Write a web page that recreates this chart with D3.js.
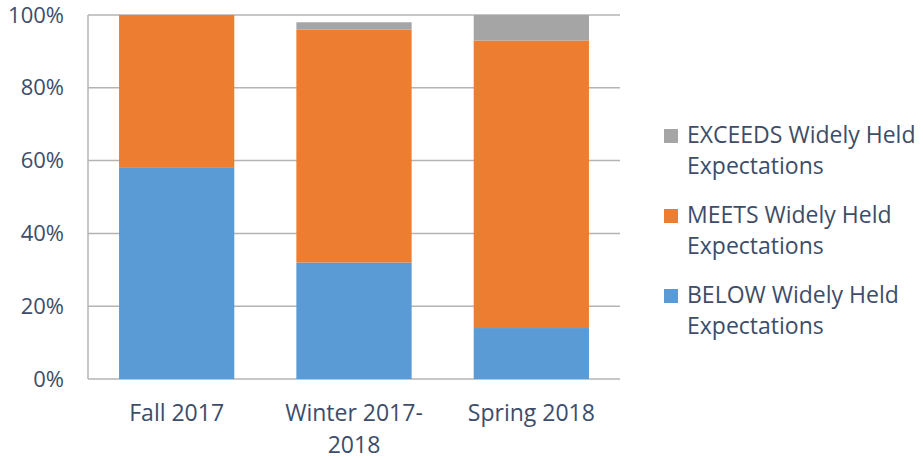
<!DOCTYPE html>
<html>
<head>
<meta charset="utf-8">
<script src="https://cdn.jsdelivr.net/npm/d3@7"></script>
<style>
  body { margin: 0; background: #fff; }
  svg text { font-family: "Open Sans", sans-serif; fill: #3d4d69; }
</style>
</head>
<body>
<div id="chart"></div>
<script>
const categories = [["Fall 2017"], ["Winter 2017-", "2018"], ["Spring 2018"]];
const seriesNames = ["BELOW", "MEETS", "EXCEEDS"];
const below = [58, 32, 14];
const meets = [42, 64, 79];
const exceeds = [0, 2, 7];
const yTicks = [0, 20, 40, 60, 80, 100];
const legendLabels = [
  ["EXCEEDS Widely Held", "Expectations"],
  ["MEETS Widely Held", "Expectations"],
  ["BELOW Widely Held", "Expectations"]
];

const width = 923, height = 460;
const margin = { left: 88, right: 303, top: 15, bottom: 81 };
const colors = { BELOW: "#5b9bd5", MEETS: "#ed7d31", EXCEEDS: "#a5a5a5" };

const svg = d3.select("#chart").append("svg")
  .attr("width", width)
  .attr("height", height);

const rows = categories.map((c, i) => ({
  key: c.join(" "), lines: c,
  BELOW: below[i], MEETS: meets[i], EXCEEDS: exceeds[i]
}));

const x = d3.scaleBand()
  .domain(rows.map(d => d.key))
  .range([margin.left, width - margin.right])
  .paddingInner(0.35)
  .paddingOuter(0.175);

const y = d3.scaleLinear()
  .domain([0, 100])
  .range([height - margin.bottom, margin.top]);

// gridlines
svg.append("g")
  .selectAll("line")
  .data(yTicks)
  .enter().append("line")
  .attr("x1", margin.left)
  .attr("x2", width - margin.right)
  .attr("y1", d => y(d))
  .attr("y2", d => y(d))
  .attr("stroke", "#b4b4b4")
  .attr("stroke-width", 1.5);

svg.append("line")
  .attr("x1", margin.left).attr("x2", margin.left)
  .attr("y1", y(0)).attr("y2", y(100))
  .attr("stroke", "#b4b4b4")
  .attr("stroke-width", 1.5);

// stacked bars
const stack = d3.stack().keys(seriesNames)(rows);

svg.append("g")
  .selectAll("g")
  .data(stack)
  .enter().append("g")
  .attr("fill", d => colors[d.key])
  .selectAll("rect")
  .data(d => d)
  .enter().append("rect")
  .attr("x", d => x(d.data.key))
  .attr("width", x.bandwidth())
  .attr("y", d => y(d[1]))
  .attr("height", d => y(d[0]) - y(d[1]));

// y axis labels
const yAxis = d3.axisLeft(y)
  .tickValues(yTicks)
  .tickFormat(d => d + "%")
  .tickSize(0)
  .tickPadding(24);

svg.append("g")
  .attr("transform", `translate(${margin.left},0)`)
  .call(yAxis)
  .call(g => g.select(".domain").remove())
  .selectAll("text")
  .attr("font-size", 22)
  .attr("font-family", "Open Sans")
  .attr("fill", "#3d4d69");

// x axis labels
svg.append("g")
  .selectAll("text")
  .data(rows)
  .enter().append("text")
  .attr("x", d => x(d.key) + x.bandwidth() / 2)
  .attr("y", y(0) + 42)
  .attr("text-anchor", "middle")
  .attr("font-size", 23)
  .selectAll("tspan")
  .data(d => d.lines)
  .enter().append("tspan")
  .attr("x", function () { return d3.select(this.parentNode).attr("x"); })
  .attr("dy", (d, i) => i === 0 ? 0 : 32)
  .text(d => d);

// legend
const legendKeys = ["EXCEEDS", "MEETS", "BELOW"];
const legend = svg.append("g")
  .attr("transform", "translate(664,0)");

const items = legend.selectAll("g")
  .data(legendKeys)
  .enter().append("g")
  .attr("transform", (d, i) => `translate(0,${143 + i * 80})`);

items.append("rect")
  .attr("x", 0)
  .attr("y", -14)
  .attr("width", 14)
  .attr("height", 14)
  .attr("fill", d => colors[d]);

items.append("text")
  .attr("x", 23)
  .attr("font-size", 23)
  .selectAll("tspan")
  .data((d, i) => legendLabels[i])
  .enter().append("tspan")
  .attr("x", 23)
  .attr("dy", (d, i) => i === 0 ? 0 : 31)
  .text(d => d);
</script>
</body>
</html>
